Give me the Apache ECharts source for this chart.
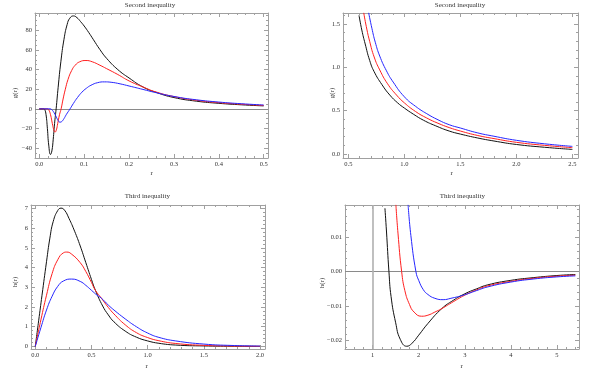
<!DOCTYPE html>
<html><head><meta charset="utf-8">
<script src="https://cdn.jsdelivr.net/npm/echarts@6/dist/echarts.min.js"></script>
<style>html,body{margin:0;padding:0;background:#fff}#c{width:600px;height:371px}</style>
</head><body><div id="c"></div>
<script>
// ---------- data ----------
const p1Black = [[0,0],[0.01,0],[0.012,-0.5],[0.015,-6],[0.018,-20],[0.021,-37],[0.025,-46.6],[0.028,-43],[0.031,-31],[0.034,-15],[0.0375,0],[0.042,22],[0.048,48],[0.055,71],[0.062,86],[0.068,92.5],[0.076,94.8],[0.084,93],[0.092,89],[0.1,84.5],[0.11,78],[0.12,71],[0.135,60.5],[0.15,51.5],[0.175,40],[0.2,31.5],[0.231,22.3],[0.26,16.8],[0.3,11.5],[0.35,7.8],[0.4,5.6],[0.45,4.1],[0.5,3.0]];
const p1Red = [[0,0],[0.018,0],[0.021,-1],[0.025,-6],[0.029,-15],[0.032,-21],[0.035,-23.8],[0.038,-21.5],[0.041,-15],[0.045,-6],[0.0486,0],[0.053,10],[0.058,20],[0.064,30],[0.072,39],[0.08,44.5],[0.09,48],[0.104,49.3],[0.118,48],[0.135,44.5],[0.15,41],[0.175,35],[0.2,28.5],[0.231,22.3],[0.26,17.2],[0.3,12.5],[0.35,8.7],[0.4,6.3],[0.45,4.7],[0.5,3.4]];
const p1Blue = [[0,0],[0.024,0],[0.028,-1],[0.033,-4],[0.038,-8.5],[0.042,-12],[0.046,-13.6],[0.05,-13],[0.055,-10],[0.06,-6],[0.0686,0],[0.076,5.5],[0.085,11.5],[0.095,17],[0.105,21],[0.115,24],[0.13,26.7],[0.145,27.5],[0.16,27.1],[0.18,25.5],[0.2,23.3],[0.231,19.8],[0.257,16.8],[0.3,12.6],[0.35,9.2],[0.4,6.9],[0.45,5.2],[0.5,3.9]];

const p2Black = [[0.595,1.6],[0.62,1.43],[0.65,1.27],[0.69,1.08],[0.73,0.95],[0.8,0.8],[0.87,0.68],[0.94,0.59],[1.0,0.53],[1.08,0.46],[1.17,0.39],[1.28,0.325],[1.4,0.265],[1.5,0.23],[1.65,0.186],[1.8,0.15],[2.0,0.11],[2.25,0.078],[2.5,0.053]];
const p2Red = [[0.637,1.63],[0.66,1.47],[0.69,1.3],[0.73,1.12],[0.78,0.97],[0.85,0.81],[0.93,0.68],[1.0,0.59],[1.1,0.49],[1.2,0.415],[1.3,0.355],[1.4,0.305],[1.5,0.265],[1.65,0.215],[1.8,0.178],[2.0,0.135],[2.25,0.1],[2.5,0.073]];
const p2Blue = [[0.681,1.63],[0.71,1.45],[0.74,1.29],[0.78,1.13],[0.84,0.96],[0.9,0.83],[1.0,0.66],[1.1,0.55],[1.2,0.465],[1.3,0.395],[1.4,0.338],[1.5,0.30],[1.65,0.245],[1.8,0.205],[2.0,0.158],[2.25,0.118],[2.5,0.088]];

const p3Black = [[0,0],[0.03,1.3],[0.06,2.6],[0.1,4.3],[0.13,5.5],[0.16,6.35],[0.2,6.9],[0.229,7.02],[0.26,6.92],[0.3,6.5],[0.35,5.85],[0.4,5.1],[0.45,4.25],[0.5,3.4],[0.535,2.85],[0.6,2.05],[0.65,1.6],[0.7,1.25],[0.8,0.78],[0.9,0.47],[1.0,0.28],[1.1,0.16],[1.25,0.07],[1.5,0.025],[1.75,0.01],[2.0,0.003]];
const p3Red = [[0,0],[0.05,1.35],[0.1,2.6],[0.15,3.7],[0.2,4.4],[0.25,4.75],[0.28,4.79],[0.32,4.7],[0.4,4.25],[0.45,3.8],[0.5,3.25],[0.535,2.85],[0.588,2.45],[0.65,1.98],[0.7,1.65],[0.8,1.1],[0.9,0.7],[1.0,0.45],[1.1,0.29],[1.25,0.15],[1.5,0.055],[1.75,0.02],[2.0,0.007]];
const p3Blue = [[0,0],[0.05,0.95],[0.1,1.85],[0.15,2.55],[0.2,3.05],[0.25,3.32],[0.324,3.42],[0.4,3.3],[0.45,3.1],[0.5,2.85],[0.55,2.6],[0.588,2.45],[0.65,2.1],[0.7,1.85],[0.8,1.4],[0.9,1.0],[1.0,0.68],[1.1,0.46],[1.25,0.28],[1.5,0.12],[1.75,0.05],[2.0,0.02]];

const p4Black = [[1.267,0.0184],[1.3,0.0118],[1.354,0],[1.4,-0.0072],[1.5,-0.0148],[1.6,-0.0196],[1.74,-0.0216],[1.85,-0.0208],[2.0,-0.0184],[2.2,-0.015],[2.5,-0.0107],[2.75,-0.0083],[3.0,-0.0064],[3.25,-0.005],[3.5,-0.0038],[4.0,-0.0025],[4.5,-0.0017],[5.0,-0.0011],[5.4,-0.0008]];
const p4Red = [[1.505,0.0194],[1.55,0.0112],[1.63,0],[1.7,-0.0055],[1.8,-0.0095],[1.9,-0.0117],[2.06,-0.0129],[2.2,-0.0126],[2.35,-0.0117],[2.5,-0.0107],[2.75,-0.0087],[3.0,-0.0068],[3.25,-0.0053],[3.5,-0.0041],[4.0,-0.0028],[4.5,-0.0019],[5.0,-0.0013],[5.4,-0.001]];
const p4Blue = [[1.77,0.0194],[1.83,0.0105],[1.94,0],[2.0,-0.0025],[2.1,-0.0052],[2.2,-0.0066],[2.35,-0.0077],[2.53,-0.0081],[2.7,-0.0077],[2.97,-0.0068],[3.25,-0.0055],[3.5,-0.0044],[4.0,-0.003],[4.5,-0.0021],[5.0,-0.0015],[5.4,-0.0012]];

// tick labels (major ticks)
const p1XTicks = [0,0.1,0.2,0.3,0.4,0.5];
const p1YTicks = [-40,-20,0,20,40,60,80];
const p2XTicks = [0.5,1.0,1.5,2.0,2.5];
const p2YTicks = [0,0.5,1.0,1.5];
const p3XTicks = [0,0.5,1.0,1.5,2.0];
const p3YTicks = [0,1,2,3,4,5,6,7];
const p4XTicks = [1,2,3,4,5];
const p4YTicks = [-0.02,-0.01,0,0.01];

const titles = ['Second inequality','Second inequality','Third inequality','Third inequality'];
const yNames = ['g(r)','g(r)','h(r)','h(r)'];

// ---------- styling / layout ----------
const FONT = '"Liberation Serif","Times New Roman",serif';
const FRAME = '#a0a0a0';
const TXT = '#333';
const COLORS = ['#111111','#ff1f1f','#2626ff'];

function steps(a,b,s){const r=[];const n=Math.round((b-a)/s);for(let i=0;i<=n;i++)r.push(+(a+i*s).toFixed(6));return r;}
function fmt(d){return v=>(v<-1e-12?'\u2212':'')+Math.abs(v).toFixed(d);}

const panels = [
  {grid:{left:35,top:13,width:233,height:145}, xr:[-0.0096,0.5096], yr:[-50.2,97.8],
   xt:p1XTicks, xm:steps(0,0.5,0.02), xf:fmt(1), yt:p1YTicks, ym:steps(-50,95,5), yf:fmt(0),
   series:[p1Black,p1Red,p1Blue], marks:[{yAxis:0}],
   title:[150,5], xName:[151.7,173], yName:[15,93]},
  {grid:{left:343,top:13,width:235,height:145}, xr:[0.452,2.55], yr:[-0.046,1.627],
   xt:p2XTicks, xm:steps(0.5,2.5,0.1), xf:fmt(1), yt:p2YTicks, ym:steps(0,1.6,0.1), yf:fmt(1),
   series:[p2Black,p2Red,p2Blue], marks:[],
   title:[460,5], xName:[451.7,173], yName:[331.7,93]},
  {grid:{left:31,top:205,width:234,height:144}, xr:[-0.038,2.044], yr:[-0.13,7.18],
   xt:p3XTicks, xm:steps(0,2,0.1), xf:fmt(1), yt:p3YTicks, ym:steps(0,7,0.2), yf:fmt(0),
   series:[p3Black,p3Red,p3Blue], marks:[],
   title:[147.3,195.7], xName:[146.7,366.5], yName:[15,282]},
  {grid:{left:345,top:205,width:234,height:144}, xr:[0.4,5.48], yr:[-0.0224,0.01934],
   xt:p4XTicks, xm:steps(0.4,5.4,0.2), xf:fmt(0), yt:p4YTicks, ym:steps(-0.022,0.018,0.002), yf:fmt(2),
   series:[p4Black,p4Red,p4Blue], marks:[{yAxis:0},{xAxis:1,lineStyle:{color:'#b0b0b0',width:1.6}}],
   title:[462.3,195.7], xName:[461.7,366.5], yName:[321.7,283]}
];

function axis(gi,pos,r,ticks,len,labels,f,line){
  return {type:'value',gridIndex:gi,position:pos,min:r[0],max:r[1],
    axisLine:{show:line,onZero:false,lineStyle:{color:FRAME,width:1}},
    axisTick:{show:true,inside:true,length:len,customValues:ticks,lineStyle:{color:FRAME,width:1}},
    axisLabel:labels?{show:true,customValues:labels,formatter:f,fontSize:6.5,fontFamily:FONT,color:TXT,margin:3}:{show:false},
    splitLine:{show:false},minorTick:{show:false},axisPointer:{show:false}};
}

const option = {animation:false,backgroundColor:'#fff',grid:[],xAxis:[],yAxis:[],series:[],graphic:[]};
panels.forEach((p,gi)=>{
  option.grid.push(Object.assign({containLabel:false},p.grid));
  const xb = option.xAxis.length, yb = option.yAxis.length;
  option.xAxis.push(axis(gi,'bottom',p.xr,p.xt,4,p.xt,p.xf,true));
  option.xAxis.push(axis(gi,'bottom',p.xr,p.xm,2,null,null,false));
  option.xAxis.push(axis(gi,'top',p.xr,p.xt,4,null,null,true));
  option.xAxis.push(axis(gi,'top',p.xr,p.xm,2,null,null,false));
  option.yAxis.push(axis(gi,'left',p.yr,p.yt,4,p.yt,p.yf,true));
  option.yAxis.push(axis(gi,'left',p.yr,p.ym,2,null,null,false));
  option.yAxis.push(axis(gi,'right',p.yr,p.yt,4,null,null,true));
  option.yAxis.push(axis(gi,'right',p.yr,p.ym,2,null,null,false));
  p.series.forEach((d,si)=>{
    const s = {type:'line',xAxisIndex:xb,yAxisIndex:yb,data:d,symbol:'none',showSymbol:false,
      smooth:0.5,clip:true,silent:true,z:3+si,
      lineStyle:{color:COLORS[si],width:1}};
    if(si===0 && p.marks.length){
      s.markLine={silent:true,symbol:['none','none'],label:{show:false},animation:false,z:1,
        lineStyle:{color:'#8a8a8a',width:1,type:'solid'},data:p.marks};
    }
    option.series.push(s);
  });
  const tf = '7px '+FONT;
  option.graphic.push({type:'text',x:p.title[0],y:p.title[1],style:{text:titles[gi],fill:TXT,font:tf,align:'center',verticalAlign:'middle',textAlign:'center',textVerticalAlign:'middle'}});
  option.graphic.push({type:'text',x:p.xName[0],y:p.xName[1],style:{text:'r',fill:TXT,font:tf,align:'center',verticalAlign:'middle',textAlign:'center',textVerticalAlign:'middle'}});
  option.graphic.push({type:'text',x:p.yName[0],y:p.yName[1],rotation:Math.PI/2,style:{text:yNames[gi],fill:TXT,font:tf,align:'center',verticalAlign:'middle',textAlign:'center',textVerticalAlign:'middle'}});
});

const chart = echarts.init(document.getElementById('c'),null,{renderer:'canvas'});
chart.setOption(option);
</script>
</body></html>
